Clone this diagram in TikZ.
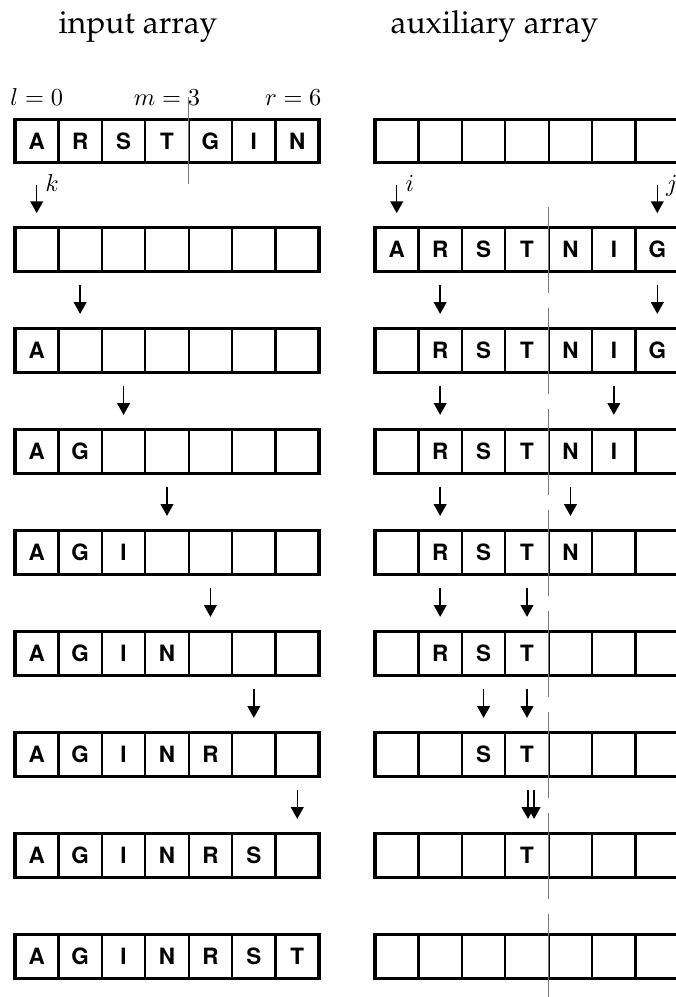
\documentclass[tikz,border=0pt]{standalone}
\usepackage[T1]{fontenc}
\usepackage{fontspec}
\setsansfont{TeX Gyre Heros}
\usetikzlibrary{arrows.meta}
\definecolor{MsGray}{RGB}{118,118,118}
\tikzset{
  ms/cell/.style={
    draw=black,
    line width=0.95pt,
    minimum size=0.625cm,
    inner sep=0pt,
    outer sep=0pt,
    font=\sffamily\bfseries\fontsize{9.2}{11}\selectfont
  },
  ms/frame/.style={draw=black, line width=1.25pt},
  ms/ptr/.style={-{Triangle[length=4.8pt,width=5.2pt]}, line width=0.55pt},
  ms/split/.style={draw=MsGray, line width=0.55pt},
  ms/gap/.style={draw=MsGray, line width=0.55pt, dash pattern=on 35.2pt off 6.14pt},
  ms/title/.style={font=\fontsize{13}{15}\usefont{T1}{ppl}{m}{n}, anchor=base, inner sep=0pt},
  ms/idx/.style={anchor=base west, inner sep=0pt}
}
\newcommand{\msrow}[4]{%
  \foreach \c [count=\n from 0] in {#4}{
    \node[ms/cell] (#1-\n) at ({#2+\n+0.5},#3) {\c};
  }
  \draw[ms/frame] (#1-0.north west) rectangle (#1-6.south east);
}

\begin{document}
\begin{tikzpicture}[x=0.625cm,y=0.625cm]
  \useasboundingbox (0,0) rectangle (15.543,-22.957);
  \node[ms/title] (tin) at (3.178,-0.767) {input array};
  \node[ms/title] (taux) at (11.386,-0.767) {auxiliary array};
  \node[ms/idx] (lo) at (0.230,-2.418) {$l=0$};
  \node[ms/idx,anchor=base] (mid) at (3.845,-2.418) {$m=3$};
  \node[ms/idx,anchor=base east] (hi) at (7.414,-2.418) {$r=6$};

  \msrow{L0}{0.345}{-3.251}{A,R,S,T,G,I,N}
  \msrow{L1}{0.345}{-5.745}{{},{},{},{},{},{},{}}
  \msrow{L2}{0.345}{-8.071}{A,{},{},{},{},{},{}}
  \msrow{L3}{0.345}{-10.396}{A,G,{},{},{},{},{}}
  \msrow{L4}{0.345}{-12.722}{A,G,I,{},{},{},{}}
  \msrow{L5}{0.345}{-15.047}{A,G,I,N,{},{},{}}
  \msrow{L6}{0.345}{-17.373}{A,G,I,N,R,{},{}}
  \msrow{L7}{0.345}{-19.699}{A,G,I,N,R,S,{}}
  \msrow{L8}{0.345}{-22.024}{A,G,I,N,R,S,T}

  \msrow{R0}{8.635}{-3.251}{{},{},{},{},{},{},{}}
  \msrow{R1}{8.635}{-5.745}{A,R,S,T,N,I,G}
  \msrow{R2}{8.635}{-8.071}{{},R,S,T,N,I,G}
  \msrow{R3}{8.635}{-10.396}{{},R,S,T,N,I,{}}
  \msrow{R4}{8.635}{-12.722}{{},R,S,T,N,{},{}}
  \msrow{R5}{8.635}{-15.047}{{},R,S,T,{},{},{}}
  \msrow{R6}{8.635}{-17.373}{{},{},S,T,{},{},{}}
  \msrow{R7}{8.635}{-19.699}{{},{},{},T,{},{},{}}
  \msrow{R8}{8.635}{-22.024}{{},{},{},{},{},{},{}}

  \draw[ms/split] ([yshift=9.1pt]L0-3.north east) -- ([yshift=-8.6pt]L0-3.south east);
  \draw[ms/gap] ([yshift=8.6pt]R1-3.north east) -- ([yshift=-20pt]R8-3.south east);

  \draw[ms/ptr] ([yshift=-8.9pt]L0-0.south) -- ([yshift=6pt]L1-0.north);
  \draw[ms/ptr] ([yshift=-8.9pt]R0-0.south) -- ([yshift=6pt]R1-0.north);
  \draw[ms/ptr] ([yshift=-8.9pt]R0-6.south) -- ([yshift=6pt]R1-6.north);
  \node[ms/idx] (k) at ([xshift=3.4pt,yshift=-11.9pt]L0-0.south) {$k$};
  \node[ms/idx] (i) at ([xshift=3.4pt,yshift=-11.9pt]R0-0.south) {$i$};
  \node[ms/idx] (j) at ([xshift=3.4pt,yshift=-11.9pt]R0-6.south) {$j$};

  \foreach \k [evaluate=\k as \kk using int(\k+1)] in {1,...,6}
    \draw[ms/ptr] ([yshift=-5.45pt]L\k-\k.south) -- ([yshift=6.1pt]L\kk-\k.north);
  \foreach \k/\c [evaluate=\k as \kk using int(\k+1)] in {1/1,1/6,2/1,2/5,3/1,3/4,4/1,4/3,5/2,5/3}
    \draw[ms/ptr] ([yshift=-5.45pt]R\k-\c.south) -- ([yshift=6.1pt]R\kk-\c.north);
  \draw[ms/ptr] ([xshift=0.4pt,yshift=-5.45pt]R6-3.south) -- ([xshift=0.4pt,yshift=6.1pt]R7-3.north);
  \draw[ms/ptr] ([xshift=2.9pt,yshift=-5.45pt]R6-3.south) -- ([xshift=2.9pt,yshift=6.1pt]R7-3.north);
\end{tikzpicture}
\end{document}
